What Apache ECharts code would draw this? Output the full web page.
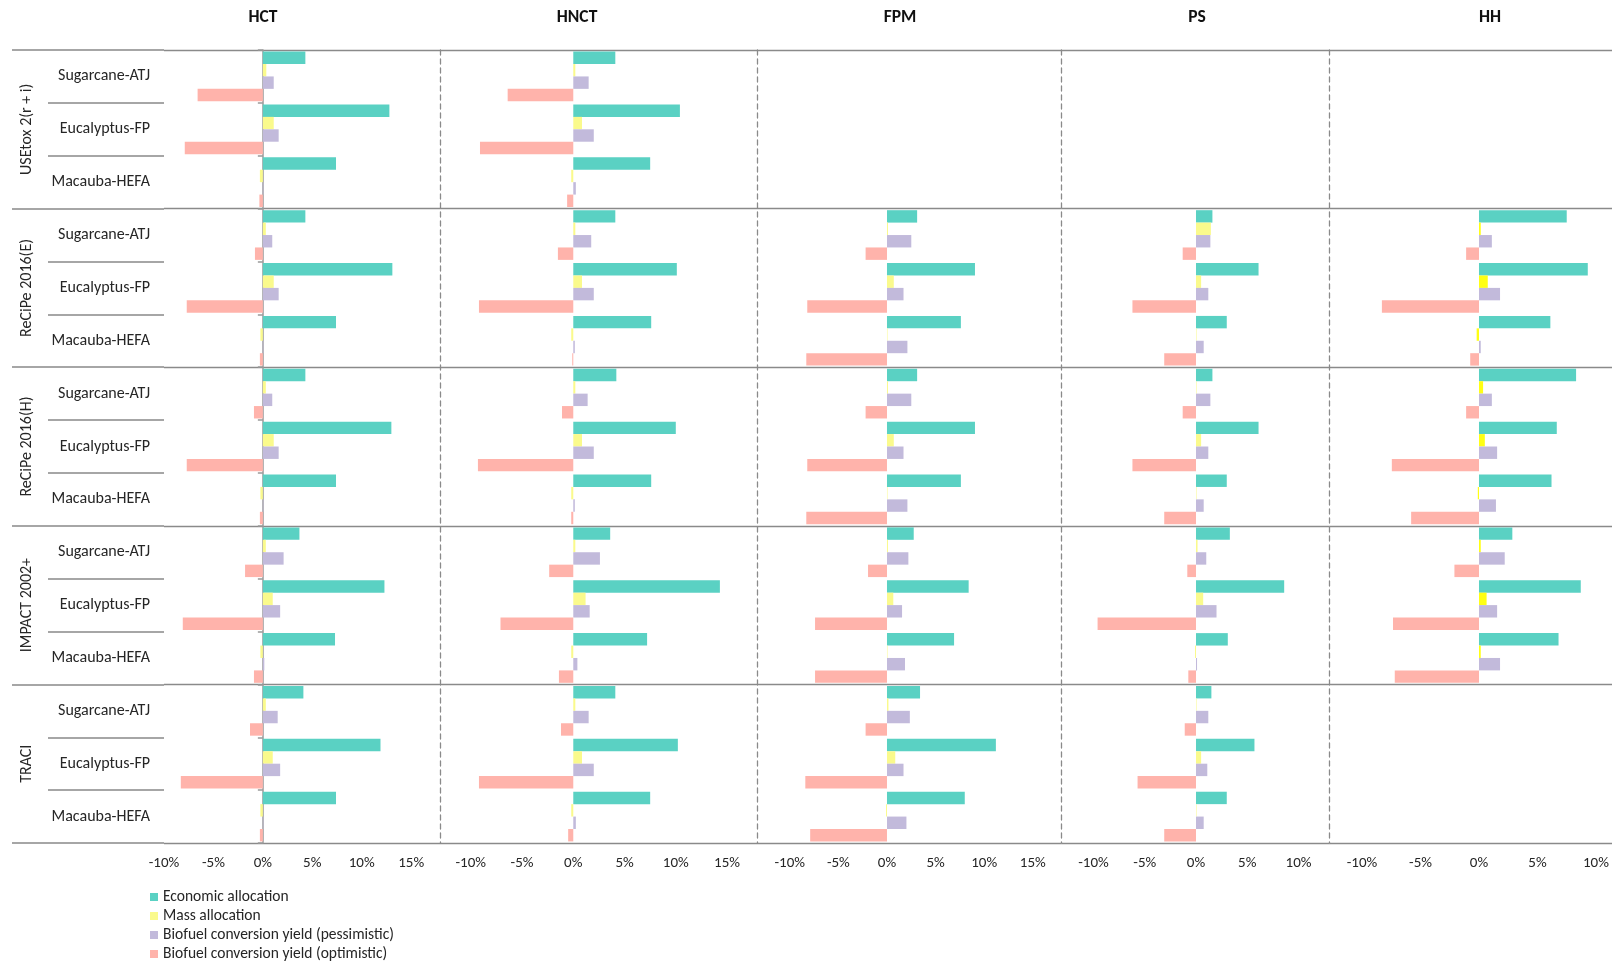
<!DOCTYPE html>
<html>
<head>
<meta charset="utf-8">
<script src="https://cdn.jsdelivr.net/npm/echarts@6/dist/echarts.min.js"></script>
<style>html,body{margin:0;padding:0;background:#fff}#c{width:1612px;height:963px}</style>
</head>
<body>
<div id="c"></div>
<script>
// ---------- labels ----------
const impacts = ['HCT', 'HNCT', 'FPM', 'PS', 'HH'];
const methods = ['USEtox 2(r + i)', 'ReCiPe 2016(E)', 'ReCiPe 2016(H)', 'IMPACT 2002+', 'TRACI'];
const pathways = ['Sugarcane-ATJ', 'Eucalyptus-FP', 'Macauba-HEFA'];
const seriesNames = ['Economic allocation', 'Mass allocation', 'Biofuel conversion yield (pessimistic)', 'Biofuel conversion yield (optimistic)'];
const ticksWide = [-10, -5, 0, 5, 10, 15];
const ticksNarrow = [-10, -5, 0, 5, 10];

// ---------- values (%), per method: Sugarcane-ATJ, Eucalyptus-FP, Macauba-HEFA ----------
const HCT_economic = [4.3, 12.8, 7.4, 4.3, 13.1, 7.4, 4.3, 13.0, 7.4, 3.7, 12.3, 7.3, 4.1, 11.9, 7.4];
const HCT_mass = [0.35, 1.1, -0.3, 0.3, 1.1, -0.25, 0.3, 1.1, -0.25, 0.3, 1.0, -0.25, 0.3, 1.0, -0.25];
const HCT_pessimistic = [1.1, 1.6, 0.05, 0.95, 1.6, 0.05, 0.95, 1.6, 0.05, 2.1, 1.75, 0.15, 1.5, 1.75, 0.05];
const HCT_optimistic = [-6.6, -7.9, -0.35, -0.8, -7.7, -0.3, -0.9, -7.7, -0.3, -1.8, -8.1, -0.9, -1.3, -8.3, -0.3];

const HNCT_economic = [4.1, 10.4, 7.5, 4.1, 10.1, 7.6, 4.2, 10.0, 7.6, 3.6, 14.3, 7.2, 4.1, 10.2, 7.5];
const HNCT_mass = [0.2, 0.85, -0.2, 0.2, 0.85, -0.2, 0.2, 0.85, -0.2, 0.2, 1.2, -0.2, 0.2, 0.85, -0.2];
const HNCT_pessimistic = [1.5, 2.0, 0.25, 1.75, 2.0, 0.15, 1.4, 2.0, 0.15, 2.6, 1.6, 0.4, 1.5, 2.0, 0.25];
const HNCT_optimistic = [-6.4, -9.1, -0.6, -1.5, -9.2, -0.1, -1.1, -9.3, -0.2, -2.35, -7.1, -1.4, -1.2, -9.2, -0.5];

const FPM_economic = [null, null, null, 3.1, 9.05, 7.6, 3.1, 9.05, 7.6, 2.75, 8.4, 6.9, 3.4, 11.2, 8.0];
const FPM_mass = [null, null, null, 0.1, 0.7, 0.05, 0.1, 0.7, 0.05, 0.1, 0.65, 0.05, 0.15, 0.85, -0.1];
const FPM_pessimistic = [null, null, null, 2.5, 1.7, 2.1, 2.5, 1.7, 2.1, 2.2, 1.55, 1.85, 2.35, 1.7, 2.0];
const FPM_optimistic = [null, null, null, -2.2, -8.2, -8.3, -2.2, -8.2, -8.3, -1.95, -7.4, -7.4, -2.2, -8.4, -7.9];

const PS_economic = [null, null, null, 1.6, 6.1, 3.0, 1.6, 6.1, 3.0, 3.3, 8.6, 3.1, 1.5, 5.7, 3.0];
const PS_mass = [null, null, null, 1.45, 0.5, 0.05, 0.05, 0.5, 0.05, 0.15, 0.7, -0.1, 0.05, 0.5, 0.05];
const PS_pessimistic = [null, null, null, 1.4, 1.2, 0.75, 1.4, 1.2, 0.75, 1.0, 2.0, 0.1, 1.2, 1.1, 0.75];
const PS_optimistic = [null, null, null, -1.3, -6.2, -3.1, -1.3, -6.2, -3.1, -0.85, -9.6, -0.75, -1.1, -5.7, -3.1];

const HH_economic = [null, null, null, 7.5, 9.3, 6.1, 8.3, 6.65, 6.2, 2.85, 8.7, 6.8, null, null, null];
const HH_mass = [null, null, null, 0.15, 0.75, -0.2, 0.35, 0.5, -0.1, 0.15, 0.65, 0.15, null, null, null];
const HH_pessimistic = [null, null, null, 1.1, 1.8, 0.15, 1.1, 1.55, 1.45, 2.2, 1.55, 1.8, null, null, null];
const HH_optimistic = [null, null, null, -1.1, -8.3, -0.75, -1.1, -7.45, -5.8, -2.1, -7.35, -7.2, null, null, null];

// ---------- build ----------
const values = [
  [HCT_economic, HCT_mass, HCT_pessimistic, HCT_optimistic],
  [HNCT_economic, HNCT_mass, HNCT_pessimistic, HNCT_optimistic],
  [FPM_economic, FPM_mass, FPM_pessimistic, FPM_optimistic],
  [PS_economic, PS_mass, PS_pessimistic, PS_optimistic],
  [HH_economic, HH_mass, HH_pessimistic, HH_optimistic]
];

const FONT = "Carlito, Lato, 'Liberation Sans', sans-serif";
const TXT = '#262626';
const colors = ['#5ad1c3', '#fafa8c', '#c2badb', '#ffb3ab'];
const hhYellow = '#ffff14';

const rowKeys = [];
methods.forEach((m, gi) => pathways.forEach((p, pi) => rowKeys.push(String(gi * 3 + pi))));

// panel layout (pixels) and axis extents
const TOP = 50, HEIGHT = 793;
const panels = [
  { left: 164, right: 440, min: -10, max: 17.92, ticks: ticksWide },
  { left: 440, right: 757, min: -13.0, max: 17.92, ticks: ticksWide },
  { left: 757, right: 1061.6, min: -13.37, max: 17.96, ticks: ticksWide },
  { left: 1061.6, right: 1329.6, min: -13.11, max: 13.03, ticks: ticksNarrow },
  { left: 1329.6, right: 1612, min: -12.77, max: 11.37, ticks: ticksNarrow }
];

const grid = [], xAxis = [], yAxis = [], series = [], title = [];

panels.forEach((p, i) => {
  grid.push({ left: p.left, width: p.right - p.left, top: TOP, height: HEIGHT, outerBoundsMode: 'none', containLabel: false });
  xAxis.push({
    type: 'value', gridIndex: i, min: p.min, max: p.max,
    axisLine: { show: false }, axisTick: { show: false }, splitLine: { show: false },
    axisLabel: {
      customValues: p.ticks, formatter: v => v + '%', margin: 13,
      fontSize: 15, color: TXT, fontFamily: FONT
    }
  });
  yAxis.push({
    type: 'category', gridIndex: i, inverse: true, data: rowKeys,
    axisLabel: { show: false },
    axisLine: { show: i === 0, onZero: true, lineStyle: { color: '#9a9a9a', width: 1.5 } },
    axisTick: { show: i === 0, length: 5, interval: 0, lineStyle: { color: '#9a9a9a', width: 1.5 } },
    splitLine: { show: true, interval: 2, lineStyle: { color: '#8a8a8a', width: 1.3 } }
  });
  title.push({
    text: impacts[i], left: [263, 577, 900, 1197, 1490][i], top: 18,
    textAlign: 'center', textVerticalAlign: 'middle', padding: 0,
    textStyle: { fontSize: 17.5, fontWeight: 'bold', color: '#111', fontFamily: FONT }
  });
  values[i].forEach((arr, s) => {
    series.push({
      type: 'bar', name: seriesNames[s], xAxisIndex: i, yAxisIndex: i,
      data: arr, barGap: '0%', barCategoryGap: '6%',
      itemStyle: { color: (i === 4 && s === 1) ? hhYellow : colors[s] },
      silent: true
    });
  });
});

// dashed panel separators
for (let i = 0; i < 4; i++) {
  yAxis.push({
    type: 'category', gridIndex: i, position: 'right', inverse: true, data: rowKeys,
    axisLabel: { show: false }, axisTick: { show: false }, splitLine: { show: false },
    axisLine: { show: true, onZero: false, lineStyle: { color: '#8a8a8a', width: 1.3, type: [5, 4] } }
  });
}

// left label table
grid.push({ left: 12, width: 152, top: TOP, height: HEIGHT, outerBoundsMode: 'none', containLabel: false });
xAxis.push({ type: 'value', gridIndex: 5, show: false });
yAxis.push({
  type: 'category', gridIndex: 5, position: 'left', inverse: true, data: methods,
  axisLine: { show: false, onZero: false },
  axisTick: { show: true, inside: true, length: 152, interval: 0, lineStyle: { color: '#a6a6a6', width: 2 } },
  axisLabel: { inside: true, rotate: 90, margin: 15, align: 'center', verticalAlign: 'middle', fontSize: 16, color: TXT, fontFamily: FONT },
  splitLine: { show: false }
});
yAxis.push({
  type: 'category', gridIndex: 5, position: 'right', inverse: true, data: rowKeys,
  axisLine: { show: false, onZero: false },
  axisTick: { show: true, inside: true, length: 116, interval: 0, lineStyle: { color: '#a6a6a6', width: 2 } },
  axisLabel: { inside: true, margin: 14, align: 'right', fontSize: 16, color: TXT, fontFamily: FONT, interval: 0,
    formatter: (v, idx) => pathways[Number(v) % 3] },
  splitLine: { show: false }
});

const chart = echarts.init(document.getElementById('c'), null, { renderer: 'canvas' });
chart.setOption({
  animation: false,
  backgroundColor: '#fff',
  title,
  grid, xAxis, yAxis, series,
  legend: {
    data: seriesNames, orient: 'vertical', left: 150, top: 889,
    itemWidth: 8, itemHeight: 8, itemGap: 3, icon: 'rect', padding: 0,
    textStyle: { fontSize: 15.5, color: TXT, fontFamily: FONT },
    selectedMode: false
  }
});
</script>
</body>
</html>
